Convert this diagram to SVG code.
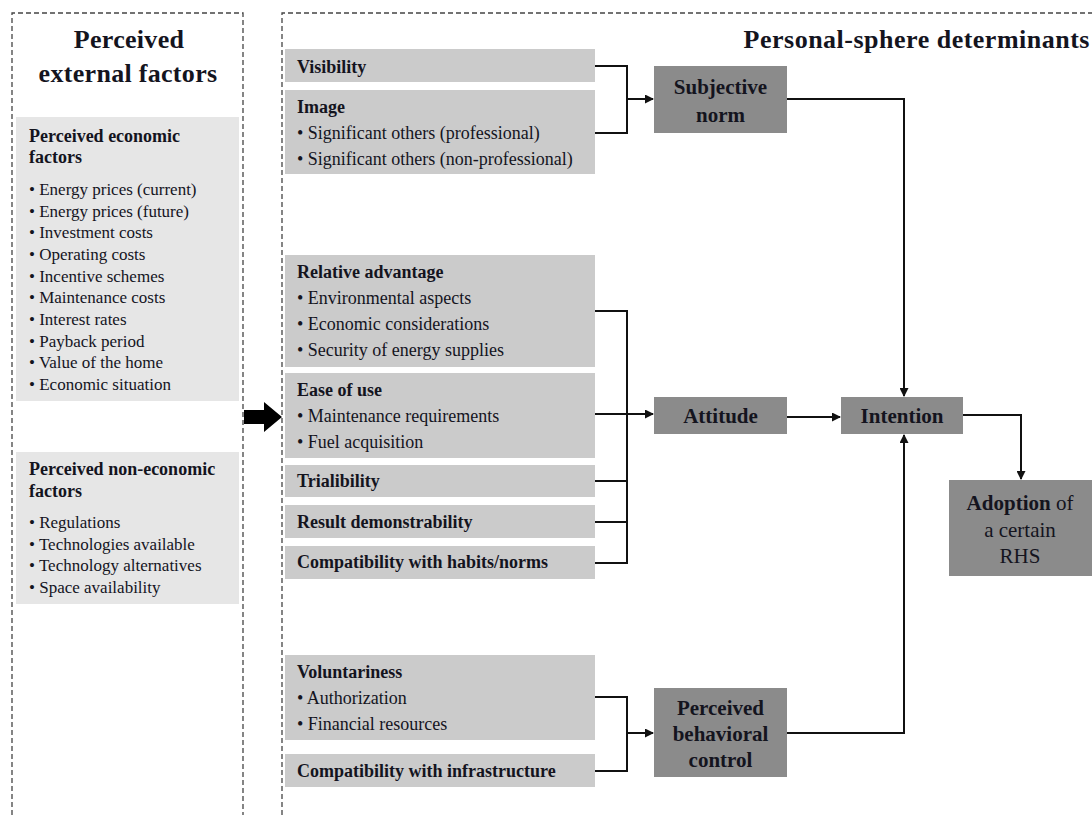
<svg xmlns="http://www.w3.org/2000/svg" width="1092" height="815" viewBox="0 0 1092 815">
<style>
text{font-family:"Liberation Serif","Times New Roman",serif;fill:#14141e}
.title{font-size:26px;font-weight:bold}
.lh{font-size:18px;font-weight:bold}
.lb{font-size:17px}
.mh{font-size:18px;font-weight:bold}
.mb{font-size:18px}
.dk{font-size:21px;font-weight:bold}
.dkn{font-size:21px;font-weight:normal}
.lbox{fill:#e6e6e6}
.mbox{fill:#cbcbcb}
.dbox{fill:#8b8b8b}
.frame{fill:none;stroke:#444;stroke-width:1.3;stroke-dasharray:5 3}
.conn{fill:none;stroke:#111;stroke-width:2}
</style>
<defs>
<marker id="ah" markerUnits="userSpaceOnUse" markerWidth="9" markerHeight="9" refX="8" refY="4.5" orient="auto">
<path d="M0,0 L9,4.5 L0,9 z" fill="#111"/>
</marker>
</defs>
<rect width="1092" height="815" fill="#fff"/>

<g id="frames">
<path class="frame" d="M12,815 V13 H243 V815"/>
<path class="frame" d="M282,815 V13 H1092"/>
</g>

<g id="external-title">
<text class="title" x="129" y="48" text-anchor="middle" letter-spacing="0.3">Perceived</text>
<text class="title" x="128" y="82" text-anchor="middle" letter-spacing="0.3">external factors</text>
</g>

<g id="economic">
<rect class="lbox" x="16" y="117" width="223" height="284"/>
<text class="lh" x="29" y="142">Perceived economic</text>
<text class="lh" x="29" y="163">factors</text>
<text class="lb" x="29" y="195">• Energy prices (current)</text>
<text class="lb" x="29" y="216.7">• Energy prices (future)</text>
<text class="lb" x="29" y="238.3">• Investment costs</text>
<text class="lb" x="29" y="260">• Operating costs</text>
<text class="lb" x="29" y="281.7">• Incentive schemes</text>
<text class="lb" x="29" y="303.3">• Maintenance costs</text>
<text class="lb" x="29" y="325">• Interest rates</text>
<text class="lb" x="29" y="346.7">• Payback period</text>
<text class="lb" x="29" y="368.3">• Value of the home</text>
<text class="lb" x="29" y="390">• Economic situation</text>
</g>

<g id="non-economic">
<rect class="lbox" x="16" y="452" width="223" height="152"/>
<text class="lh" x="29" y="475">Perceived non-economic</text>
<text class="lh" x="29" y="497">factors</text>
<text class="lb" x="29" y="528">• Regulations</text>
<text class="lb" x="29" y="549.7">• Technologies available</text>
<text class="lb" x="29" y="571.3">• Technology alternatives</text>
<text class="lb" x="29" y="593">• Space availability</text>
</g>

<g id="big-arrow">
<polygon points="244,410 264,410 264,402 282,417 264,432 264,424 244,424" fill="#000"/>
</g>

<g id="personal-title">
<text class="title" x="1090" y="48" text-anchor="end" letter-spacing="0.5">Personal-sphere determinants</text>
</g>

<g id="visibility">
<rect class="mbox" x="285" y="49" width="310" height="33"/>
<text class="mh" x="297" y="73">Visibility</text>
</g>
<g id="image">
<rect class="mbox" x="285" y="90" width="310" height="84"/>
<text class="mh" x="297" y="113">Image</text>
<text class="mb" x="297" y="139">• Significant others (professional)</text>
<text class="mb" x="297" y="165">• Significant others (non-professional)</text>
</g>

<g id="relative-advantage">
<rect class="mbox" x="285" y="255" width="310" height="112"/>
<text class="mh" x="297" y="278">Relative advantage</text>
<text class="mb" x="297" y="304">• Environmental aspects</text>
<text class="mb" x="297" y="330">• Economic considerations</text>
<text class="mb" x="297" y="356">• Security of energy supplies</text>
</g>
<g id="ease-of-use">
<rect class="mbox" x="285" y="373" width="310" height="85"/>
<text class="mh" x="297" y="396">Ease of use</text>
<text class="mb" x="297" y="422">• Maintenance requirements</text>
<text class="mb" x="297" y="448">• Fuel acquisition</text>
</g>
<g id="trialibility">
<rect class="mbox" x="285" y="465" width="310" height="32"/>
<text class="mh" x="297" y="487">Trialibility</text>
</g>
<g id="result-demonstrability">
<rect class="mbox" x="285" y="505" width="310" height="33"/>
<text class="mh" x="297" y="528">Result demonstrability</text>
</g>
<g id="compat-habits">
<rect class="mbox" x="285" y="546" width="310" height="33"/>
<text class="mh" x="297" y="568">Compatibility with habits/norms</text>
</g>

<g id="voluntariness">
<rect class="mbox" x="285" y="655" width="310" height="85"/>
<text class="mh" x="297" y="678">Voluntariness</text>
<text class="mb" x="297" y="704">• Authorization</text>
<text class="mb" x="297" y="730">• Financial resources</text>
</g>
<g id="compat-infra">
<rect class="mbox" x="285" y="754" width="310" height="33"/>
<text class="mh" x="297" y="777">Compatibility with infrastructure</text>
</g>

<g id="subjective-norm">
<rect class="dbox" x="654" y="66" width="133" height="67"/>
<text class="dk" x="720.5" y="94" text-anchor="middle">Subjective</text>
<text class="dk" x="720.5" y="122" text-anchor="middle">norm</text>
</g>
<g id="attitude">
<rect class="dbox" x="654" y="397" width="133" height="37"/>
<text class="dk" x="720.5" y="423" text-anchor="middle">Attitude</text>
</g>
<g id="pbc">
<rect class="dbox" x="654" y="688" width="133" height="89"/>
<text class="dk" x="720.5" y="715" text-anchor="middle">Perceived</text>
<text class="dk" x="720.5" y="741" text-anchor="middle">behavioral</text>
<text class="dk" x="720.5" y="767" text-anchor="middle">control</text>
</g>
<g id="intention">
<rect class="dbox" x="841" y="397" width="122" height="37"/>
<text class="dk" x="902" y="423" text-anchor="middle">Intention</text>
</g>
<g id="adoption">
<rect class="dbox" x="949" y="480" width="143" height="96"/>
<text class="dk" x="1020" y="510" text-anchor="middle">Adoption <tspan class="dkn">of</tspan></text>
<text class="dkn" x="1020" y="537" text-anchor="middle">a certain</text>
<text class="dkn" x="1020" y="563" text-anchor="middle">RHS</text>
</g>

<g id="connectors">
<path class="conn" d="M595,66 H627 V133 H595"/>
<path class="conn" d="M627,99 H653" marker-end="url(#ah)"/>
<path class="conn" d="M787,99 H904 V396" marker-end="url(#ah)"/>
<path class="conn" d="M595,311 H627 V563 H595"/>
<path class="conn" d="M595,481 H627 M595,522 H627"/>
<path class="conn" d="M595,414 H653" marker-end="url(#ah)"/>
<path class="conn" d="M787,417 H840" marker-end="url(#ah)"/>
<path class="conn" d="M595,697 H627 V771 H595"/>
<path class="conn" d="M627,733 H653" marker-end="url(#ah)"/>
<path class="conn" d="M787,733 H904 V435" marker-end="url(#ah)"/>
<path class="conn" d="M963,415 H1021 V479" marker-end="url(#ah)"/>
</g>
</svg>
